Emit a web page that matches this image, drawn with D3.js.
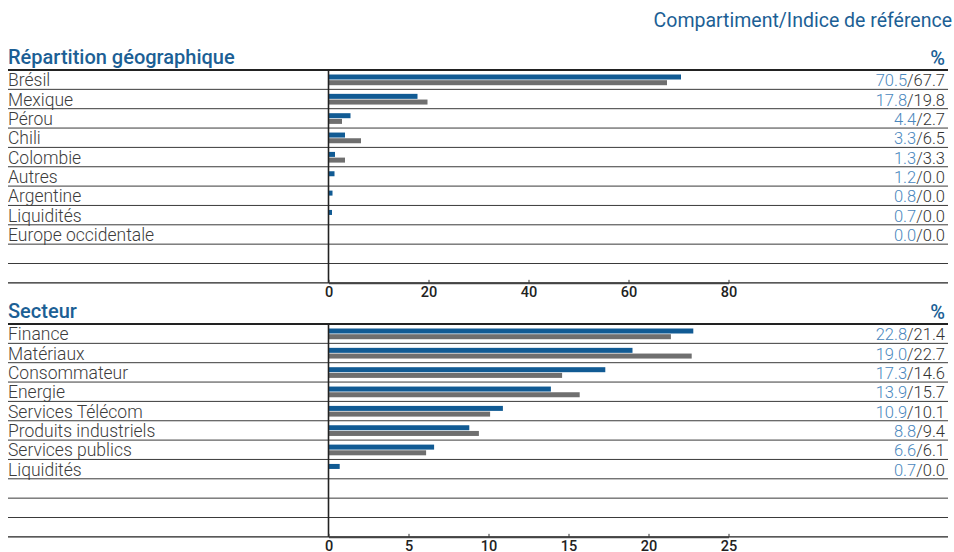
<!DOCTYPE html>
<html>
<head>
<meta charset="utf-8">
<script src="https://cdn.jsdelivr.net/npm/d3@7"></script>
<style>
  body { margin: 0; background: #fff; }
  text { font-family: Roboto, "Open Sans", sans-serif; }
</style>
</head>
<body>
<svg class="chart" width="954" height="552"></svg>
<script>
// data
var geoCategories = ["Brésil", "Mexique", "Pérou", "Chili", "Colombie", "Autres", "Argentine", "Liquidités", "Europe occidentale", "", ""];
var geoFund = [70.5, 17.8, 4.4, 3.3, 1.3, 1.2, 0.8, 0.7, 0.0];
var geoIndex = [67.7, 19.8, 2.7, 6.5, 3.3, 0.0, 0.0, 0.0, 0.0];
var geoTicks = [0, 20, 40, 60, 80];

var secCategories = ["Finance", "Matériaux", "Consommateur", "Energie", "Services Télécom", "Produits industriels", "Services publics", "Liquidités", "", "", ""];
var secFund = [22.8, 19.0, 17.3, 13.9, 10.9, 8.8, 6.6, 0.7];
var secIndex = [21.4, 22.7, 14.6, 15.7, 10.1, 9.4, 6.1, 0.0];
var secTicks = [0, 5, 10, 15, 20, 25];

var svg = d3.select(".chart"),
    left = 8, right = 948,
    axisLeft = 328.5, axisRight = 728.5,
    blue = "#115b94", grey = "#6f6f6f", lightBlue = "#4a87bd";

svg.append("text")
    .attr("x", 952).attr("y", 27)
    .attr("text-anchor", "end")
    .attr("font-size", "19.5px")
    .attr("font-weight", 400)
    .attr("fill", "#1c5f95")
    .text("Compartiment/Indice de référence");

function drawSection(title, top, cats, fund, index, maxVal, ticks) {
    var g = svg.append("g");
    var rowH = 19.35;
    var bottom = top + rowH * cats.length;

    var x = d3.scaleLinear().domain([0, maxVal]).range([axisLeft, axisRight]);
    var y = d3.scaleBand().domain(d3.range(cats.length)).range([top, bottom]);

    g.append("text")
        .attr("x", left).attr("y", top - 6)
        .attr("font-size", "20px").attr("font-weight", 500)
        .attr("fill", "#1c5f95")
        .text(title);

    g.append("text")
        .attr("x", 945).attr("y", top - 5)
        .attr("text-anchor", "end")
        .attr("font-size", "20px").attr("font-weight", 500)
        .attr("fill", "#1c5f95")
        .text("%");

    // row separators
    g.selectAll(".sep")
        .data(d3.range(1, cats.length))
        .enter().append("line")
        .attr("x1", left).attr("x2", right)
        .attr("y1", function(i) { return y(i); })
        .attr("y2", function(i) { return y(i); })
        .attr("stroke", "#3a3a3a").attr("stroke-width", 1);

    // top rule
    g.append("line")
        .attr("x1", left).attr("x2", right)
        .attr("y1", top).attr("y2", top)
        .attr("stroke", "#222").attr("stroke-width", 2);

    // bottom rule
    g.append("line")
        .attr("x1", left).attr("x2", right)
        .attr("y1", bottom).attr("y2", bottom)
        .attr("stroke", "#222").attr("stroke-width", 1.2);

    // category labels
    g.selectAll(".cat")
        .data(cats)
        .enter().append("text")
        .attr("x", left)
        .attr("y", function(d, i) { return y(i) + 16.3; })
        .attr("font-size", "17.5px").attr("font-weight", 300)
        .attr("fill", "#3c3c3c")
        .text(function(d) { return d; });

    // bars
    g.selectAll(".fund")
        .data(fund)
        .enter().append("rect")
        .attr("x", x(0))
        .attr("y", function(d, i) { return y(i) + 4.5; })
        .attr("width", function(d) { return x(d) - x(0); })
        .attr("height", 5)
        .attr("fill", blue);

    g.selectAll(".index")
        .data(index)
        .enter().append("rect")
        .attr("x", x(0))
        .attr("y", function(d, i) { return y(i) + 10.2; })
        .attr("width", function(d) { return x(d) - x(0); })
        .attr("height", 5)
        .attr("fill", grey);

    // value labels
    var vals = g.selectAll(".val")
        .data(fund)
        .enter().append("text")
        .attr("x", 945)
        .attr("y", function(d, i) { return y(i) + 16.3; })
        .attr("text-anchor", "end")
        .attr("font-size", "16.5px").attr("font-weight", 300);
    vals.append("tspan").attr("fill", lightBlue)
        .text(function(d) { return d.toFixed(1); });
    vals.append("tspan").attr("fill", "#333")
        .text(function(d, i) { return "/" + index[i].toFixed(1); });

    // vertical axis line
    g.append("line")
        .attr("x1", axisLeft).attr("x2", axisLeft)
        .attr("y1", top).attr("y2", bottom)
        .attr("stroke", "#222").attr("stroke-width", 1.6);

    // x axis
    var ax = g.append("g")
        .attr("transform", "translate(0," + bottom + ")")
        .call(d3.axisBottom(x).tickValues(ticks).tickSizeInner(-3).tickSizeOuter(0).tickPadding(4));
    ax.select(".domain").attr("stroke", "#444").attr("stroke-width", 1.6);
    ax.selectAll(".tick line").attr("stroke", "#333");
    ax.selectAll(".tick text")
        .attr("font-family", "Roboto, sans-serif")
        .attr("font-size", "14.5px").attr("font-weight", 500)
        .attr("fill", "#222");
}

drawSection("Répartition géographique", 70, geoCategories, geoFund, geoIndex, 80, geoTicks);
drawSection("Secteur", 324, secCategories, secFund, secIndex, 25, secTicks);
</script>
</body>
</html>
